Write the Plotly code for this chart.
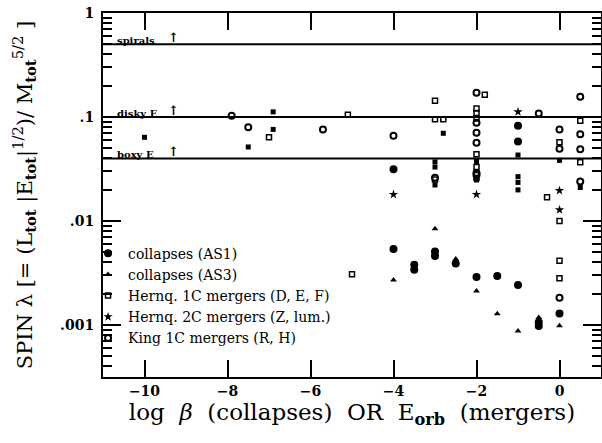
import math
import plotly.graph_objects as go

# ---- data ----
as1_x = [-4, -4, -3.5, -3.5, -3, -3, -2.5, -2, -1.5, -1, -1, -1, -0.5, -0.5, 0]
as1_y = [0.0314, 0.00538, 0.0038, 0.0034, 0.0051, 0.0046, 0.0039, 0.0029, 0.00296,
         0.0826, 0.058, 0.00243, 0.00098, 0.00106, 0.00129]

as3_x = [-4, -3, -2.5, -2, -1.5, -1, -0.5, 0]
as3_y = [0.00271, 0.0084, 0.0043, 0.00212, 0.00128, 0.000875, 0.00118, 0.000986]

h1c_x = [-7, -5.1, -5, -3, -3, -2.8, -3, -1.8, -2, -2, -2, -2, -2, -2,
         -0.3, 0, 0, 0, 0, 0.5, 0.5]
h1c_y = [0.064, 0.105, 0.00307, 0.1435, 0.095, 0.095, 0.025, 0.164, 0.121, 0.109,
         0.097, 0.0438, 0.0331, 0.0259, 0.0169, 0.0100, 0.00415, 0.00281, 0.0573,
         0.092, 0.0368]

h2c_x = [-4, -2, -1, 0, 0]
h2c_y = [0.018, 0.018, 0.112, 0.0196, 0.0128]

king_x = [-7.9, -7.5, -5.7, -4, -3, -2, -2, -2, -2, -2, -2, -0.5, 0, 0, 0,
          0.5, 0.5, 0.5, 0.5]
king_y = [0.103, 0.0796, 0.076, 0.066, 0.026, 0.171, 0.088, 0.0706, 0.0566, 0.029,
          0.0277, 0.108, 0.076, 0.0494, 0.00183, 0.157, 0.0684, 0.049, 0.024]

fsq_x = [-10, -7.5, -6.9, -6.9, -2.8, -3, -3, -3, -2, -2, -1, -1, -1, -1, 0, 0.5]
fsq_y = [0.0638, 0.0515, 0.112, 0.076, 0.0697, 0.037, 0.033, 0.0222, 0.0374, 0.0248,
         0.0431, 0.0267, 0.0235, 0.0199, 0.0383, 0.021]

class_levels = [0.5, 0.1, 0.04]
class_labels = ["spirals", "disky E", "boxy E"]

x_tickvals = [-10, -8, -6, -4, -2, 0]
y_tickvals = [1, 0.1, 0.01, 0.001]
y_ticktext = ["1", ".1", ".01", ".001"]

SERIF = "DejaVu Serif"

fig = go.Figure()

fig.add_trace(go.Scatter(x=fsq_x, y=fsq_y, mode="markers", showlegend=False,
                         marker=dict(symbol="square", size=5, color="black")))
fig.add_trace(go.Scatter(x=as1_x, y=as1_y, mode="markers", name="collapses (AS1)",
                         marker=dict(symbol="circle", size=8, color="black")))
fig.add_trace(go.Scatter(x=as3_x, y=as3_y, mode="markers", name="collapses (AS3)",
                         marker=dict(symbol="triangle-up", size=6, color="black")))
fig.add_trace(go.Scatter(x=h1c_x, y=h1c_y, mode="markers", name="Hernq. 1C mergers (D, E, F)",
                         marker=dict(symbol="square-open", size=5, color="black",
                                     line=dict(width=1.5, color="black"))))
fig.add_trace(go.Scatter(x=h2c_x, y=h2c_y, mode="markers", name="Hernq. 2C mergers (Z, lum.)",
                         marker=dict(symbol="star", size=7, color="black")))
fig.add_trace(go.Scatter(x=king_x, y=king_y, mode="markers", name="King 1C mergers (R, H)",
                         marker=dict(symbol="circle-open", size=6, color="black",
                                     line=dict(width=2, color="black"))))

for lev, lab in zip(class_levels, class_labels):
    fig.add_shape(type="line", xref="paper", x0=0, x1=1, yref="y", y0=lev, y1=lev,
                  line=dict(color="black", width=2))
    fig.add_annotation(x=0.024, xref="paper", y=math.log10(lev), yref="y",
                       text="<b>" + lab + "</b>",
                       showarrow=False, xanchor="left", yanchor="bottom", yshift=-4,
                       font=dict(family=SERIF, size=10, color="black"))
    fig.add_annotation(x=0.1425, xref="paper", y=math.log10(lev), yref="y", text="<b>↑</b>",
                       showarrow=False, xanchor="center", yanchor="bottom", yshift=-3,
                       font=dict(family=SERIF, size=13, color="black"))

fig.update_layout(
    width=602, height=443,
    margin=dict(l=103, r=1, t=13, b=66, autoexpand=False),
    paper_bgcolor="white", plot_bgcolor="white",
    font=dict(family=SERIF, color="black"),
    legend=dict(x=-0.03, xanchor="left", y=0.383, yanchor="top",
                bgcolor="rgba(0,0,0,0)", font=dict(family=SERIF, size=14, color="black"),
                itemwidth=30, tracegroupgap=0),
)

fig.update_xaxes(
    range=[-11, 1], showline=True, linecolor="black", linewidth=2, mirror="ticks",
    ticks="inside", ticklen=17, tickwidth=1.5, tickcolor="black",
    tickvals=x_tickvals, showgrid=False, zeroline=False, automargin=False,
    tickfont=dict(family=SERIF, size=14, color="black", weight="bold"),
    title=dict(text="log&nbsp; <i>β</i>&nbsp; (collapses)&nbsp; OR&nbsp; E<sub><b>orb</b></sub>&nbsp; (mergers)",
               font=dict(family=SERIF, size=23, color="black"), standoff=4),
)
fig.update_yaxes(
    type="log", range=[-3.5, 0], showline=True, linecolor="black", linewidth=2,
    mirror="ticks", ticks="inside", ticklen=18, tickwidth=1.5, tickcolor="black",
    tickvals=y_tickvals, ticktext=y_ticktext, showgrid=False, zeroline=False,
    ticklabelstandoff=4, automargin=False,
    tickfont=dict(family=SERIF, size=14, color="black", weight="bold"),
    minor=dict(ticks="inside", ticklen=9, tickwidth=1.5, tickcolor="black",
               dtick="D1", showgrid=False),
    title=dict(text="SPIN λ [= (L<sub><b>tot</b></sub> |E<sub><b>tot</b></sub>|<sup>1/2</sup>)/ "
                    "M<sub><b>tot</b></sub><sup>5/2</sup> ]",
               font=dict(family=SERIF, size=21, color="black"), standoff=22),
)

fig.write_html("out.html",
               config={"displayModeBar": False},
               post_script="document.body.style.margin='0px';"
                           "document.body.style.overflow='hidden';")
